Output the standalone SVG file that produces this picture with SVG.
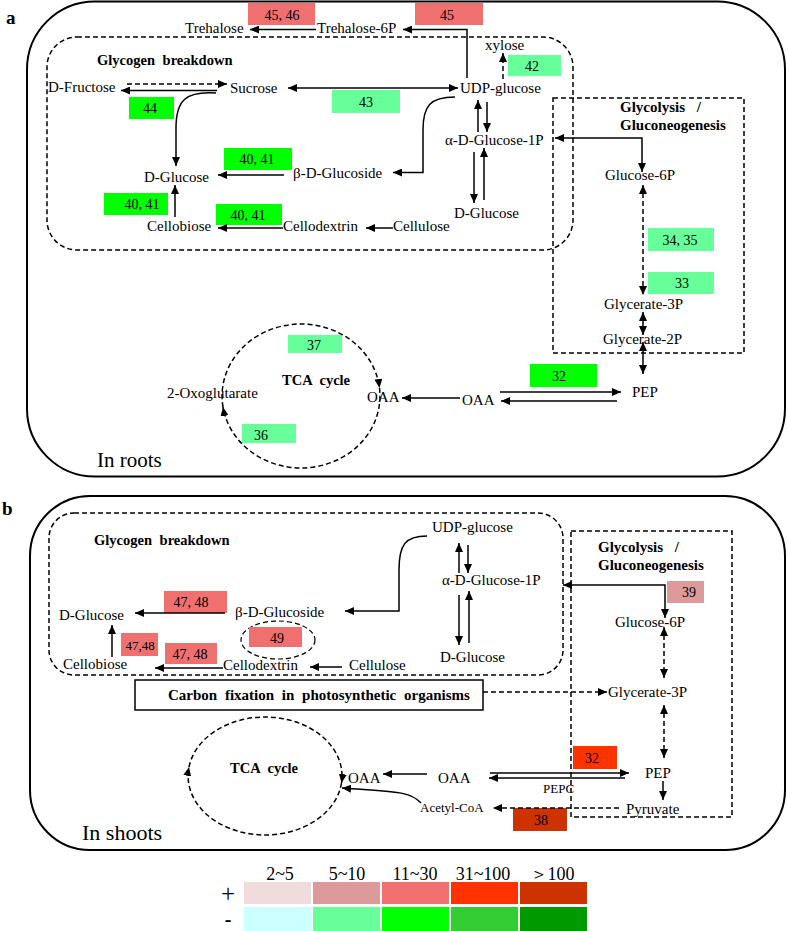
<svg xmlns="http://www.w3.org/2000/svg" width="788" height="931" viewBox="0 0 788 931">
<defs>
<marker id="ah" markerUnits="userSpaceOnUse" markerWidth="9" markerHeight="8" viewBox="0 0 9 8" refX="9" refY="4" orient="auto-start-reverse"><path d="M0,0 L9,4 L0,8 z" fill="#000"/></marker>
<style>
text{font-family:"Liberation Serif","Times New Roman",serif;fill:#000}
.t{font-size:15px}
.s{font-size:13px}
.bt{font-size:14.5px;font-weight:bold;word-spacing:4px}
.n{font-size:14px;text-anchor:middle}
.big{font-size:21px}
.lab{font-size:19px;font-weight:bold}
.lg{font-size:18px;text-anchor:middle}
.frame{fill:none;stroke:#000;stroke-width:2}
.dash{fill:none;stroke:#000;stroke-width:1.5;stroke-dasharray:5 3}
.c{fill:none;stroke:#000;stroke-width:1.5}
.cd{fill:none;stroke:#000;stroke-width:1.5;stroke-dasharray:5 3}
.e{marker-end:url(#ah)}
.be{marker-start:url(#ah);marker-end:url(#ah)}
.g1{fill:#66ff99}.g2{fill:#00ff00}.g3{fill:#33cc33}.g4{fill:#009900}.g0{fill:#ccffff}
.r0{fill:#f0dcdc}.r1{fill:#dc9a9a}.r2{fill:#f07070}.r3{fill:#ff3300}.r4{fill:#cc3300}
</style>
</defs>

<!-- Panel a frames -->
<g id="panel-a">
<text x="6" y="24" class="lab">a</text>
<rect x="27" y="1.5" width="758" height="475" rx="68" class="frame"/>
<rect x="47" y="37" width="526" height="213" rx="30" class="dash"/>
<rect x="553" y="98" width="191" height="255" class="dash"/>
<text x="97" y="65" class="bt">Glycogen breakdown</text>
<text x="620" y="112" class="bt" style="font-size:15px;word-spacing:8px">Glycolysis /</text>
<text x="620" y="130" class="bt" style="font-size:15px">Gluconeogenesis</text>
<text x="97" y="467" class="big">In roots</text>
</g>

<!-- Panel a enzyme boxes -->
<g id="a-boxes">
<g id="a-e4546"><rect x="248" y="3" width="67" height="22" class="r2"/><text x="282" y="20" class="n">45, 46</text></g>
<g id="a-e45"><rect x="415" y="3" width="68" height="22" class="r2"/><text x="447" y="20" class="n">45</text></g>
<g id="a-e42"><rect x="508" y="55" width="53" height="21" class="g1"/><text x="532" y="71" class="n">42</text></g>
<g id="a-e43"><rect x="332" y="90" width="68" height="23" class="g1"/><text x="366" y="107" class="n">43</text></g>
<g id="a-e44"><rect x="129" y="97" width="45" height="22" class="g2"/><text x="150" y="113" class="n">44</text></g>
<g id="a-e4041a"><rect x="224" y="148" width="68" height="22" class="g2"/><text x="257" y="164" class="n">40, 41</text></g>
<g id="a-e4041b"><rect x="104" y="193" width="64" height="22" class="g2"/><text x="142" y="209" class="n">40, 41</text></g>
<g id="a-e4041c"><rect x="216" y="204" width="66" height="21" class="g2"/><text x="248" y="220" class="n">40, 41</text></g>
<g id="a-e3435"><rect x="648" y="228" width="66" height="23" class="g1"/><text x="680" y="245" class="n">34, 35</text></g>
<g id="a-e33"><rect x="648" y="272" width="66" height="22" class="g1"/><text x="682" y="288" class="n">33</text></g>
<g id="a-e32"><rect x="530" y="364" width="67" height="23" class="g2"/><text x="559" y="381" class="n">32</text></g>
<g id="a-e37"><rect x="288" y="335" width="54" height="18" class="g1"/><text x="314" y="350" class="n">37</text></g>
<g id="a-e36"><rect x="242" y="424" width="54" height="19" class="g1"/><text x="261" y="440" class="n">36</text></g>
</g>

<!-- Panel b frames -->
<g id="panel-b">
<text x="2" y="515" class="lab">b</text>
<rect x="30" y="496" width="755" height="354" rx="60" class="frame"/>
<rect x="49" y="513" width="514" height="162" rx="25" class="dash"/>
<rect x="571" y="531" width="161" height="286" class="dash"/>
<text x="94" y="545" class="bt">Glycogen breakdown</text>
<text x="598" y="552" class="bt" style="font-size:15px;word-spacing:8px">Glycolysis /</text>
<text x="598" y="570" class="bt" style="font-size:15px">Gluconeogenesis</text>
<text x="82" y="840" class="big" style="font-size:22px">In shoots</text>
</g>

<!-- Panel b enzyme boxes -->
<g id="b-boxes">
<g id="b-e4748a"><rect x="164" y="591" width="63" height="22" class="r2"/><text x="191" y="607" class="n">47, 48</text></g>
<g id="b-e49"><ellipse cx="278" cy="640" rx="37" ry="19" class="dash" style="stroke-width:1.2"/><rect x="249" y="627" width="53" height="20" class="r2"/><text x="277" y="643" class="n">49</text></g>
<g id="b-e4748b"><rect x="121" y="633" width="37" height="23" class="r2"/><text x="140" y="650" class="n" style="font-size:13px">47,48</text></g>
<g id="b-e4748c"><rect x="165" y="643" width="52" height="21" class="r2"/><text x="190" y="659" class="n">47, 48</text></g>
<g id="b-e39"><rect x="667" y="581" width="37" height="22" class="r1"/><text x="689" y="597" class="n">39</text></g>
<g id="b-e32"><rect x="573" y="746" width="44" height="23" class="r3"/><text x="592" y="763" class="n">32</text></g>
<g id="b-e38"><rect x="513" y="808" width="54" height="23" class="r4"/><text x="541" y="825" class="n">38</text></g>
</g>

<!-- Connectors -->
<g id="connectors">
<!-- panel a -->
<path d="M316 29.5 H250" class="c e"/>
<path d="M467 78 V29.5 H403" class="c e"/>
<path d="M503 79 V53" class="cd e"/>
<path d="M288 88 H458" class="c be"/>
<path d="M127 84 H227" class="cd e"/>
<path d="M217 90.5 H121" class="c e"/>
<path d="M216 93 C186 91 176 100 176 128 V166" class="c e"/>
<path d="M455 97 C430 97 423 106 423 130 V172.5 H393" class="c e"/>
<path d="M284 175 H218" class="c e"/>
<path d="M487 102 V132" class="c e"/>
<path d="M478 132 V100" class="c e"/>
<path d="M474 152 V203" class="c e"/>
<path d="M484 200 V148" class="c e"/>
<path d="M393 228 H366" class="c e"/>
<path d="M283 228 H218" class="c e"/>
<path d="M175 217 V185" class="c e"/>
<path d="M555 138 H642 V172" class="c be"/>
<path d="M643 185 V295" class="cd be"/>
<path d="M643 312 V335" class="c be"/>
<path d="M643 342 V374" class="c be"/>
<path d="M500 392 H621" class="c e"/>
<path d="M617 401 H501" class="c e"/>
<path d="M460 398 H402" class="c e"/>
<path d="M223 407 A79 72 0 0 1 301 324 A79 72 0 0 1 379.5 388" class="cd e"/>
<path d="M379.5 388 A79 72 0 0 1 301 468 A79 72 0 0 1 223 407" class="cd e"/>
<!-- panel b -->
<path d="M459 573 V543" class="c e"/>
<path d="M468 545 V573" class="c e"/>
<path d="M459 595 V645" class="c e"/>
<path d="M469 643 V591" class="c e"/>
<path d="M427 536 C405 536 399 545 399 570 V611 H345" class="c e"/>
<path d="M225 613 H135" class="c e"/>
<path d="M112 657 V625" class="c e"/>
<path d="M223 668 H155" class="c e"/>
<path d="M342 667 H310" class="c e"/>
<path d="M563 585 H665 V618" class="c be"/>
<path d="M664 627 V678" class="cd be"/>
<path d="M483 692 H607" class="cd e"/>
<path d="M664 705 V758" class="cd be"/>
<path d="M490 773 H629" class="c e"/>
<path d="M625 778 H489" class="c e"/>
<path d="M427 774 H383" class="c e"/>
<path d="M663 781 V800" class="c e"/>
<path d="M619 808 H493" class="cd e"/>
<path d="M421 803 C410 791 395 792 342 788" class="c e"/>
<path d="M189 767 A77 59 0 0 1 265 717 A77 59 0 0 1 341.5 783" class="cd e"/>
<path d="M341.5 783 A77 59 0 0 1 265 835 A77 59 0 0 1 189 767" class="cd e"/>
</g>

<!-- Panel a metabolites -->
<g id="a-nodes">
<g id="a-trehalose"><text x="185" y="33" class="t">Trehalose</text></g>
<g id="a-trehalose6p"><text x="317" y="33" class="t">Trehalose-6P</text></g>
<g id="a-xylose"><text x="485" y="50" class="t">xylose</text></g>
<g id="a-dfructose"><text x="48" y="92" class="t">D-Fructose</text></g>
<g id="a-sucrose"><text x="230" y="93" class="t">Sucrose</text></g>
<g id="a-udpglucose"><text x="460" y="93" class="t">UDP-glucose</text></g>
<g id="a-aglc1p"><text x="445" y="145" class="t">α-D-Glucose-1P</text></g>
<g id="a-dglucose1"><text x="144" y="182" class="t">D-Glucose</text></g>
<g id="a-bglucoside"><text x="293" y="178" class="t">β-D-Glucoside</text></g>
<g id="a-dglucose2"><text x="454" y="218" class="t">D-Glucose</text></g>
<g id="a-cellobiose"><text x="147" y="231" class="t">Cellobiose</text></g>
<g id="a-cellodextrin"><text x="283" y="231" class="t">Cellodextrin</text></g>
<g id="a-cellulose"><text x="393" y="231" class="t">Cellulose</text></g>
<g id="a-glc6p"><text x="605" y="180" class="t">Glucose-6P</text></g>
<g id="a-gly3p"><text x="604" y="309" class="t">Glycerate-3P</text></g>
<g id="a-gly2p"><text x="603" y="344" class="t">Glycerate-2P</text></g>
<g id="a-pep"><text x="632" y="397" class="t">PEP</text></g>
<g id="a-oaa2"><text x="462" y="405" class="t">OAA</text></g>
<g id="a-oaa1"><text x="367" y="402" class="t">OAA</text></g>
<g id="a-oxo"><text x="167" y="398" class="t">2-Oxoglutarate</text></g>
<g id="a-tca"><text x="282" y="385" class="bt">TCA cycle</text></g>
</g>

<!-- Panel b metabolites -->
<g id="b-nodes">
<g id="b-udpglucose"><text x="432" y="532" class="t">UDP-glucose</text></g>
<g id="b-aglc1p"><text x="442" y="585" class="t">α-D-Glucose-1P</text></g>
<g id="b-dglucose2"><text x="440" y="662" class="t">D-Glucose</text></g>
<g id="b-bglucoside"><text x="235" y="617" class="t">β-D-Glucoside</text></g>
<g id="b-dglucose1"><text x="59" y="620" class="t">D-Glucose</text></g>
<g id="b-cellobiose"><text x="63" y="669" class="t">Cellobiose</text></g>
<g id="b-cellodextrin"><text x="223" y="670" class="t">Cellodextrin</text></g>
<g id="b-cellulose"><text x="349" y="670" class="t">Cellulose</text></g>
<g id="b-carbonfix"><rect x="135" y="680" width="348" height="30" fill="#fff" stroke="#000" stroke-width="1.5"/><text x="168" y="700" class="bt" style="font-size:15px">Carbon fixation in photosynthetic organisms</text></g>
<g id="b-glc6p"><text x="615" y="627" class="t">Glucose-6P</text></g>
<g id="b-gly3p"><text x="608" y="697" class="t">Glycerate-3P</text></g>
<g id="b-pep"><text x="645" y="778" class="t">PEP</text></g>
<g id="b-pyruvate"><text x="626" y="814" class="t">Pyruvate</text></g>
<g id="b-oaa2"><text x="438" y="783" class="t">OAA</text></g>
<g id="b-oaa1"><text x="348" y="783" class="t">OAA</text></g>
<g id="b-pepc"><text x="543" y="793" class="s">PEPC</text></g>
<g id="b-acetylcoa"><text x="420" y="812" class="s">Acetyl-CoA</text></g>
<g id="b-tca"><text x="230" y="773" class="bt">TCA cycle</text></g>
</g>

<!-- Legend -->
<g id="legend">
<text x="280" y="880" class="lg">2~5</text>
<text x="347" y="880" class="lg">5~10</text>
<text x="415" y="880" class="lg">11~30</text>
<text x="483" y="880" class="lg">31~100</text>
<text x="552" y="880" class="lg">＞100</text>
<text x="228" y="902" style="font-size:25px;text-anchor:middle">+</text>
<text x="228" y="926" style="font-size:20px;font-weight:bold;text-anchor:middle">-</text>
<rect x="244" y="882" width="67" height="22" class="r0"/>
<rect x="313" y="882" width="67" height="22" class="r1"/>
<rect x="382" y="882" width="67" height="22" class="r2"/>
<rect x="451" y="882" width="67" height="22" class="r3"/>
<rect x="520" y="882" width="67" height="22" class="r4"/>
<rect x="244" y="907" width="67" height="24" class="g0"/>
<rect x="313" y="907" width="67" height="24" class="g1"/>
<rect x="382" y="907" width="67" height="24" class="g2"/>
<rect x="451" y="907" width="67" height="24" class="g3"/>
<rect x="520" y="907" width="67" height="24" class="g4"/>
</g>
</svg>
